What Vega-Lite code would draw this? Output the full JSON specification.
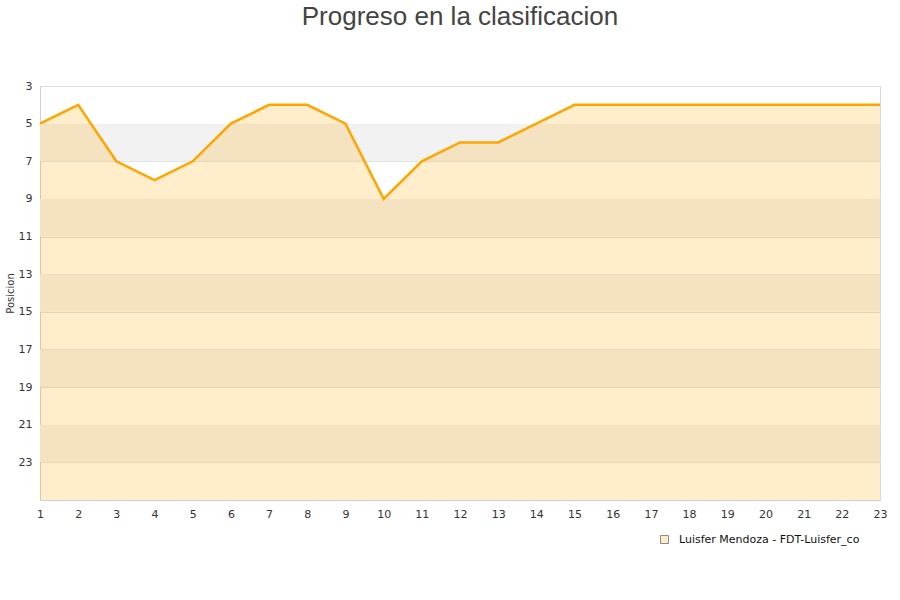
{
  "$schema": "https://vega.github.io/schema/vega-lite/v6.json",
  "autosize": {"type": "none"},
  "width": 840,
  "height": 414,
  "padding": {"left": 40, "top": 86, "right": 20, "bottom": 100},
  "background": "white",
  "title": {
    "text": "Progreso en la clasificacion",
    "anchor": "middle",
    "fontSize": 26,
    "font": "Liberation Sans",
    "fontWeight": "normal",
    "color": "#444444",
    "offset": 50
  },
  "config": {
    "view": {"stroke": "#d9d9d9"},
    "axis": {
      "labelFont": "DejaVu Sans",
      "labelFontSize": 11,
      "labelColor": "#333333",
      "domainColor": "#d0d0d0",
      "ticks": false,
      "titleFont": "DejaVu Sans",
      "titleFontWeight": "normal",
      "titleFontSize": 10,
      "titleColor": "#333333"
    },
    "axisX": {"labelOverlap": false, "labelFlush": false, "labelBound": false, "labelSeparation": 0}
  },
  "datasets": {
    "progreso": [
      {"jornada": 1, "posicion": 5, "equipo": "Luisfer Mendoza - FDT-Luisfer_co"},
      {"jornada": 2, "posicion": 4, "equipo": "Luisfer Mendoza - FDT-Luisfer_co"},
      {"jornada": 3, "posicion": 7, "equipo": "Luisfer Mendoza - FDT-Luisfer_co"},
      {"jornada": 4, "posicion": 8, "equipo": "Luisfer Mendoza - FDT-Luisfer_co"},
      {"jornada": 5, "posicion": 7, "equipo": "Luisfer Mendoza - FDT-Luisfer_co"},
      {"jornada": 6, "posicion": 5, "equipo": "Luisfer Mendoza - FDT-Luisfer_co"},
      {"jornada": 7, "posicion": 4, "equipo": "Luisfer Mendoza - FDT-Luisfer_co"},
      {"jornada": 8, "posicion": 4, "equipo": "Luisfer Mendoza - FDT-Luisfer_co"},
      {"jornada": 9, "posicion": 5, "equipo": "Luisfer Mendoza - FDT-Luisfer_co"},
      {"jornada": 10, "posicion": 9, "equipo": "Luisfer Mendoza - FDT-Luisfer_co"},
      {"jornada": 11, "posicion": 7, "equipo": "Luisfer Mendoza - FDT-Luisfer_co"},
      {"jornada": 12, "posicion": 6, "equipo": "Luisfer Mendoza - FDT-Luisfer_co"},
      {"jornada": 13, "posicion": 6, "equipo": "Luisfer Mendoza - FDT-Luisfer_co"},
      {"jornada": 14, "posicion": 5, "equipo": "Luisfer Mendoza - FDT-Luisfer_co"},
      {"jornada": 15, "posicion": 4, "equipo": "Luisfer Mendoza - FDT-Luisfer_co"},
      {"jornada": 16, "posicion": 4, "equipo": "Luisfer Mendoza - FDT-Luisfer_co"},
      {"jornada": 17, "posicion": 4, "equipo": "Luisfer Mendoza - FDT-Luisfer_co"},
      {"jornada": 18, "posicion": 4, "equipo": "Luisfer Mendoza - FDT-Luisfer_co"},
      {"jornada": 19, "posicion": 4, "equipo": "Luisfer Mendoza - FDT-Luisfer_co"},
      {"jornada": 20, "posicion": 4, "equipo": "Luisfer Mendoza - FDT-Luisfer_co"},
      {"jornada": 21, "posicion": 4, "equipo": "Luisfer Mendoza - FDT-Luisfer_co"},
      {"jornada": 22, "posicion": 4, "equipo": "Luisfer Mendoza - FDT-Luisfer_co"},
      {"jornada": 23, "posicion": 4, "equipo": "Luisfer Mendoza - FDT-Luisfer_co"}
    ],
    "bandas": [
      {"desde": 5, "hasta": 7},
      {"desde": 9, "hasta": 11},
      {"desde": 13, "hasta": 15},
      {"desde": 17, "hasta": 19},
      {"desde": 21, "hasta": 23}
    ]
  },
  "layer": [
    {
      "data": {"name": "bandas"},
      "mark": {"type": "rect", "color": "#f2f2f2"},
      "encoding": {
        "y": {"field": "desde", "type": "quantitative"},
        "y2": {"field": "hasta"}
      }
    },
    {
      "data": {"name": "progreso"},
      "mark": {"type": "area", "opacity": 0.2},
      "encoding": {
        "x": {
          "field": "jornada",
          "type": "quantitative",
          "title": null,
          "scale": {"domain": [1, 23], "nice": false},
          "axis": {
            "values": [1, 2, 3, 4, 5, 6, 7, 8, 9, 10, 11, 12, 13, 14, 15, 16, 17, 18, 19, 20, 21, 22, 23],
            "grid": false,
            "labelOverlap": false,
            "labelFlush": false,
            "labelBound": false,
            "labelPadding": 8
          }
        },
        "y": {"field": "posicion", "type": "quantitative"},
        "y2": {"datum": 25},
        "fill": {
          "field": "equipo",
          "type": "nominal",
          "scale": {"range": ["#ffa500"]},
          "legend": {
            "title": null,
            "orient": "none",
            "legendX": 619,
            "legendY": 448,
            "symbolType": "square",
            "symbolSize": 64,
            "symbolOpacity": 1,
            "symbolStrokeColor": "#8c8c8c",
            "symbolStrokeWidth": 1,
            "labelOffset": 9,
            "labelLimit": 400,
            "labelFont": "DejaVu Sans",
            "labelFontSize": 11,
            "labelColor": "#111111",
            "encode": {
              "symbols": {
                "update": {
                  "fillOpacity": {"value": 0.22},
                  "strokeOpacity": {"value": 1},
                  "stroke": {"value": "#8c8c8c"},
                  "strokeWidth": {"value": 1},
                  "opacity": {"value": 1}
                }
              }
            }
          }
        }
      }
    },
    {
      "data": {"name": "progreso"},
      "mark": {"type": "line", "color": "#ffa500", "strokeWidth": 2.5},
      "encoding": {
        "x": {
          "field": "jornada",
          "type": "quantitative",
          "title": null,
          "scale": {"domain": [1, 23], "nice": false},
          "axis": {
            "values": [1, 2, 3, 4, 5, 6, 7, 8, 9, 10, 11, 12, 13, 14, 15, 16, 17, 18, 19, 20, 21, 22, 23],
            "grid": false,
            "labelOverlap": false,
            "labelFlush": false,
            "labelBound": false,
            "labelPadding": 8
          }
        },
        "y": {
          "field": "posicion",
          "type": "quantitative",
          "title": "Posicion",
          "scale": {"domain": [3, 25], "reverse": true, "nice": false, "zero": false},
          "axis": {
            "values": [3, 5, 7, 9, 11, 13, 15, 17, 19, 21, 23],
            "grid": true,
            "gridColor": "#dedede",
            "labelPadding": 8,
            "titlePadding": 3
          }
        }
      }
    }
  ]
}
